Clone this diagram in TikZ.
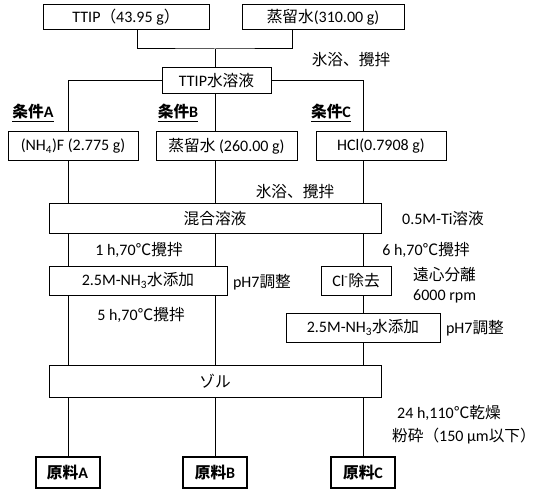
\documentclass[tikz,border=0pt]{standalone}
\usepackage{fontspec}
\setmainfont{Carlito}
\newfontfamily\jpf{Noto Sans CJK JP}[Scale=0.98]

\tikzset{
  box/.style={draw, line width=1pt, inner sep=0pt, minimum height=29pt},
  goal/.style={draw, line width=2pt, inner sep=0pt, minimum width=64pt, minimum height=31pt, font=\fontsize{16}{19}\selectfont\bfseries},
  note/.style={inner sep=0pt},
  cond/.style={inner sep=0pt, font=\fontsize{16}{19}\selectfont\bfseries}
}

\begin{document}
\begin{tikzpicture}[x=1pt,y=-1pt,font=\fontsize{16}{19}\selectfont]
\useasboundingbox (0,0) rectangle (546,489);
% columns of the three routes
\coordinate (cA) at (68,0);
\coordinate (cB) at (215,0);
\coordinate (cC) at (363,0);
\coordinate (cT) at (137,0);
\coordinate (cW) at (292,0);

% starting solution
\node[box, minimum width=166pt, minimum height=25pt] (ttip) at (126,17.5) {TTIP{\jpf （}43.95 g{\jpf ）}};
\node[box, minimum width=162pt, minimum height=25pt] (water) at (323,17.5) {{\jpf 蒸留水}(310.00 g)};
\coordinate (j1) at (215,49);
\node[box, minimum width=109pt, minimum height=26pt] (sol) at (216.5,81) {TTIP{\jpf 水溶液}};
\node[note] at (351,60) {\jpf 氷浴、攪拌};

% conditions
\node[cond] at (33,113) {\underline{{\jpf\bfseries 条件}A}};
\node[cond] at (178,113) {\underline{{\jpf\bfseries 条件}B}};
\node[cond] at (331,113) {\underline{{\jpf\bfseries 条件}C}};
\node[box, minimum width=130pt] (nh4f) at (73,146.5) {(NH\textsubscript{4})F (2.775 g)};
\node[box, minimum width=141pt] (dw) at (226.5,146.5) {{\jpf 蒸留水} (260.00 g)};
\node[box, minimum width=130pt] (hcl) at (381,146.5) {HCl(0.7908 g)};
\node[note] at (295,192) {\jpf 氷浴、攪拌};

% mixing
\node[box, minimum width=332pt] (mix) at (215,218.5) {\jpf 混合溶液};
\node[note] at (443,219) {0.5M-Ti{\jpf 溶液}};
\node[note] at (139,250) {1 h,70{\jpf ℃攪拌}};
\node[note] at (426,250) {6 h,70{\jpf ℃攪拌}};
\node[box, minimum width=178pt] (nh3a) at (138,280.5) {2.5M-NH\textsubscript{3}{\jpf 水添加}};
\node[note] at (262,282) {pH7{\jpf 調整}};
\node[box, minimum width=70pt] (cl) at (356,280.5) {Cl\textsuperscript{-}{\jpf 除去}};
\node[note, anchor=west] at (413,275) {\jpf 遠心分離};
\node[note, anchor=west] at (413,296) {6000 rpm};
\node[note] at (141,315) {5 h,70{\jpf ℃攪拌}};
\node[box, minimum width=154pt] (nh3c) at (363,327.5) {2.5M-NH\textsubscript{3}{\jpf 水添加}};
\node[note] at (475,328) {pH7{\jpf 調整}};

% sol and products
\node[box, minimum width=332pt, minimum height=32pt] (zol) at (215,381) {\jpf ゾル};
\node[note] at (449,413) {24 h,110{\jpf ℃乾燥}};
\node[note] at (464,436) {{\jpf 粉砕（}150 μm{\jpf 以下）}};
\node[goal] (gA) at (67.5,472.5) {{\jpf\bfseries 原料}A};
\node[goal] (gB) at (215,472.5) {{\jpf\bfseries 原料}B};
\node[goal] (gC) at (363,472.5) {{\jpf\bfseries 原料}C};

% connectors
\begin{scope}[line width=1pt]
\draw (ttip.south -| cT) |- (j1) -| (water.south -| cW);
\draw (j1) -- (j1 |- sol.north);
\draw (sol.west) -| (nh4f.north -| cA);
\draw (sol.south -| cB) -- (dw.north -| cB);
\draw (sol.east) -| (hcl.north -| cC);
\foreach \c/\a/\b in {cA/nh4f/mix, cB/dw/mix, cC/hcl/mix,
  cA/mix/nh3a, cA/nh3a/zol, cB/mix/nh3a, cB/nh3a/zol,
  cC/mix/cl, cC/cl/nh3c, cC/nh3c/zol,
  cA/zol/gA, cB/zol/gB, cC/zol/gC}
  \draw (\a.south -| \c) -- (\b.north -| \c);
\end{scope}
\end{tikzpicture}
\end{document}
